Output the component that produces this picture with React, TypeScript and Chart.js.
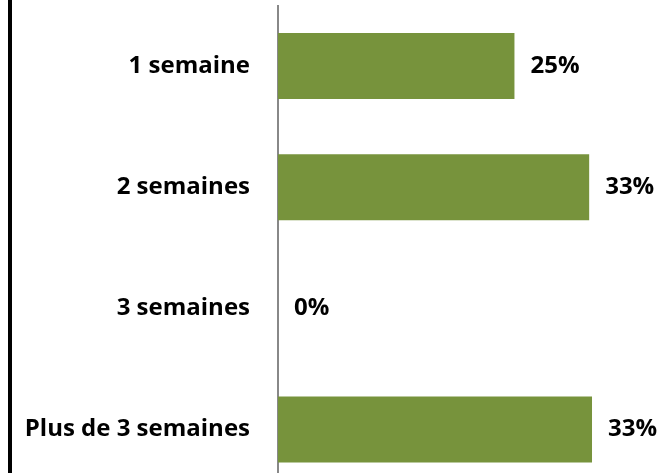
import React, { useEffect, useRef } from "react";
import { Chart, registerables } from "chart.js";

Chart.register(...registerables);

const categories = ["1 semaine", "2 semaines", "3 semaines", "Plus de 3 semaines"];
const values = [25, 32.9, 0, 33.2];
const barColor = "#77933C";
const FONT = '"Open Sans", "DejaVu Sans", sans-serif';

const valueLabels = {
  id: "valueLabels",
  afterDatasetsDraw(chart: any) {
    const ctx = chart.ctx;
    const meta = chart.getDatasetMeta(0);
    ctx.save();
    ctx.font = `bold 24px ${FONT}`;
    ctx.fillStyle = "#000";
    ctx.textAlign = "left";
    ctx.textBaseline = "middle";
    meta.data.forEach((bar: any, i: number) => {
      const v = chart.data.datasets[0].data[i] as number;
      ctx.fillText(`${Math.round(v)}%`, bar.x + 16, bar.y);
    });
    ctx.restore();
  },
};

export default function App() {
  const ref = useRef<HTMLCanvasElement>(null);
  useEffect(() => {
    if (!ref.current) return;
    const chart = new Chart(ref.current, {
      type: "bar",
      data: {
        labels: categories,
        datasets: [
          {
            data: values,
            backgroundColor: barColor,
            borderWidth: 0,
            categoryPercentage: 1,
            barPercentage: 0.545,
          },
        ],
      },
      options: {
        indexAxis: "y",
        animation: false,
        responsive: false,
        maintainAspectRatio: false,
        layout: { padding: { top: 5.5, bottom: 0, left: 0, right: 0 } },
        plugins: { legend: { display: false }, tooltip: { enabled: false } },
        scales: {
          x: { display: false, min: 0, max: 40.6 },
          y: {
            afterFit(scale: any) {
              scale.width = 278;
              scale.paddingTop = 0;
              scale.paddingBottom = 0;
            },
            grid: { display: false, drawTicks: false },
            border: { display: true, color: "#888888", width: 2 },
            ticks: {
              padding: 28,
              color: "#000",
              font: { family: FONT, size: 24, weight: "bold" },
            },
          },
        },
      },
      plugins: [valueLabels],
    });
    return () => chart.destroy();
  }, []);
  return (
    <div
      style={{
        position: "absolute",
        left: 0,
        top: 0,
        width: 662,
        height: 473,
        overflow: "hidden",
        background: "#fff",
      }}
    >
      <canvas
        ref={ref}
        width={662}
        height={490}
        style={{ position: "absolute", left: 0, top: 0, width: 662, height: 490 }}
      />
      <div
        style={{
          position: "absolute",
          left: 8,
          top: 0,
          width: 4,
          height: 473,
          background: "#000",
        }}
      />
    </div>
  );
}
